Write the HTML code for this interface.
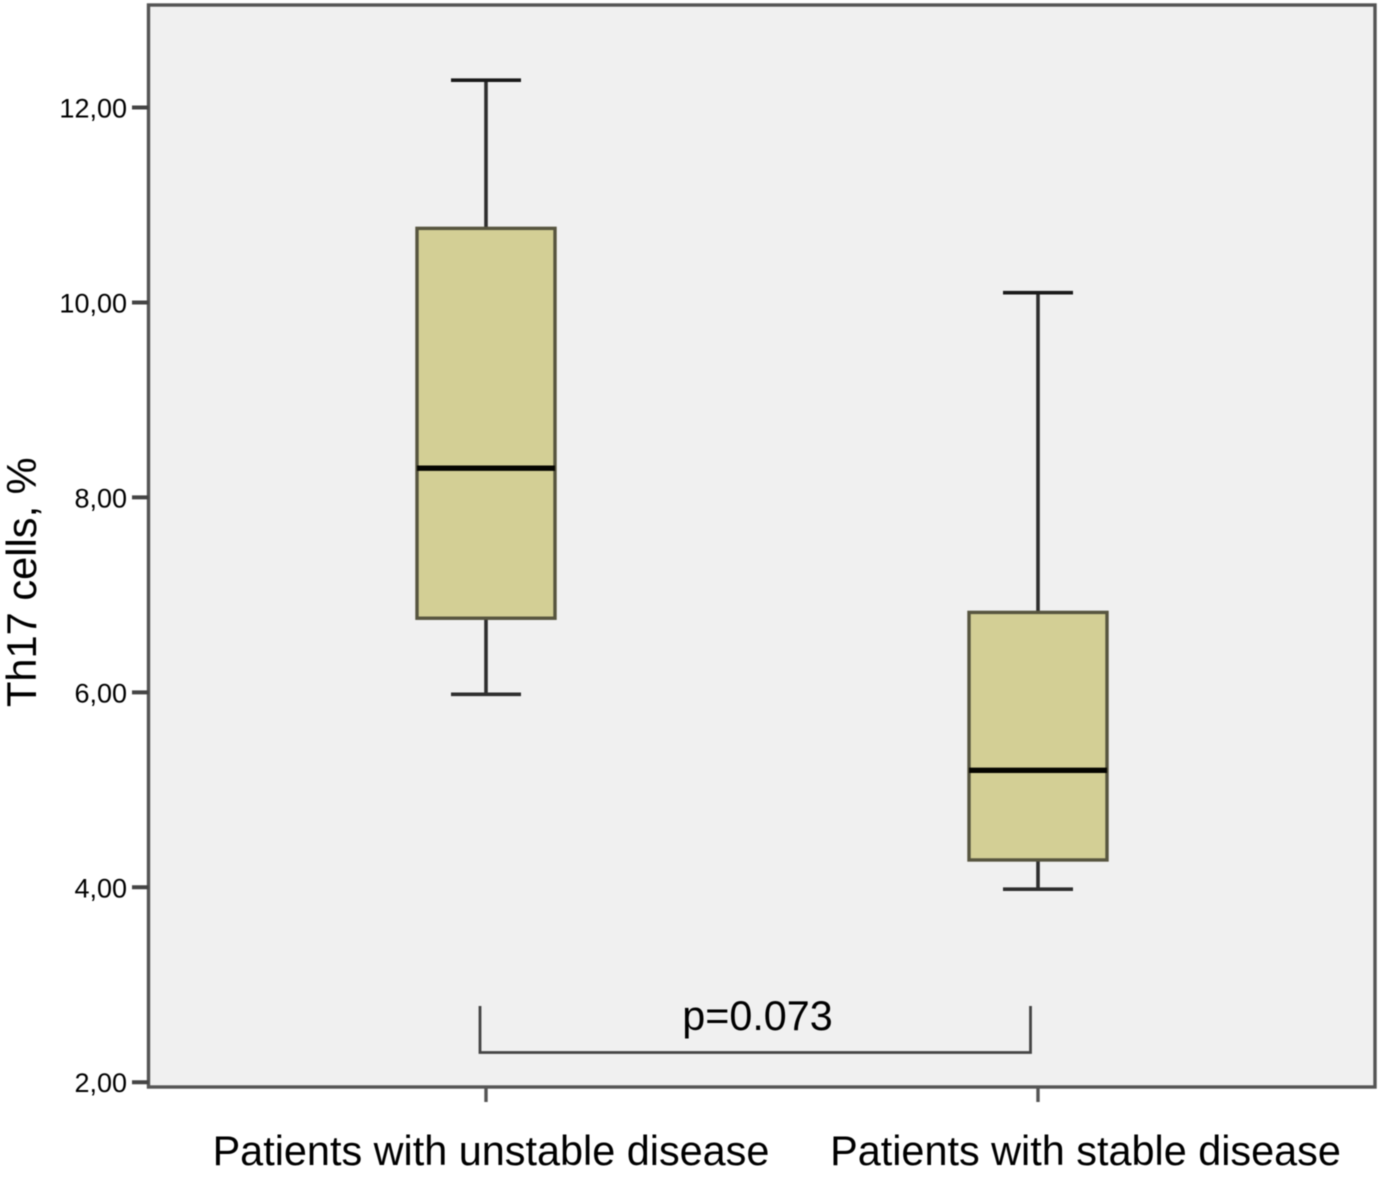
<!DOCTYPE html>
<html lang="en">
<head>
<meta charset="utf-8">
<title>Th17 cells box plot</title>
<style>
html,body{margin:0;padding:0;background:#fff;width:1379px;height:1195px;overflow:hidden}
svg{display:block;font-family:"Liberation Sans",Arial,sans-serif;filter:blur(0.4px)}
</style>
</head>
<body>
<svg id="chart" width="1379" height="1195" viewBox="0 0 1379 1195" xmlns="http://www.w3.org/2000/svg">
<rect x="0" y="0" width="1379" height="1195" fill="#ffffff"/>
<text transform="translate(36,707) rotate(-90)" font-size="41.6" fill="#000">Th17 cells, %</text>
</svg>
<script>
const categories = ['Patients with unstable disease', 'Patients with stable disease'];
const whiskerHigh = [12.28, 10.10];
const q3 = [10.76, 6.82];
const median = [8.30, 5.20];
const q1 = [6.76, 4.28];
const whiskerLow = [5.98, 3.98];
const yTicks = [12, 10, 8, 6, 4, 2];
const yTickLabels = ['12,00', '10,00', '8,00', '6,00', '4,00', '2,00'];
const pValueLabel = 'p=0.073';

const NS = 'http://www.w3.org/2000/svg';
const svg = document.getElementById('chart');
const plot = { left: 148.5, right: 1375, top: 5, bottom: 1087 };
const yScale = v => 107.5 + (12 - v) * 97.47;
const xScale = i => 486 + i * 552;
const BOX_HALF = 69;
const CAP_HALF = 35;

function make(tag, attrs, text) {
  const el = document.createElementNS(NS, tag);
  for (const k in attrs) el.setAttribute(k, attrs[k]);
  if (text !== undefined) el.textContent = text;
  return el;
}
function seg(x1, y1, x2, y2, stroke, width) {
  return make('line', { x1: x1, y1: y1, x2: x2, y2: y2, stroke: stroke, 'stroke-width': width });
}

const frame = make('rect', { x: plot.left, y: plot.top, width: plot.right - plot.left, height: plot.bottom - plot.top, fill: '#f0f0f0', stroke: '#555555', 'stroke-width': 3.4 });


svg.appendChild(frame);

yTicks.forEach((t, i) => {
  const y = yScale(t);
  const tick = seg(132, y, plot.left, y, '#444', 4);
  
  
  svg.appendChild(tick);
  const label = make('text', { x: 127, y: y + 10, 'text-anchor': 'end', 'font-size': 27, fill: '#000' }, yTickLabels[i]);
  
  
  svg.appendChild(label);
});

const labelCenters = [491, 1085.5];
categories.forEach((name, i) => {
  const x = xScale(i);

  const tick = seg(x, plot.bottom, x, 1102, '#555', 3.4);
  
  
  svg.appendChild(tick);

  const label = make('text', { x: labelCenters[i], y: 1165, 'text-anchor': 'middle', 'font-size': 41.4, fill: '#000' }, name);
  
  
  svg.appendChild(label);

  const group = make('g', {});
  
  

  const upper = seg(x, yScale(whiskerHigh[i]), x, yScale(q3[i]), '#2e2e2e', 3.6);
  
  
  group.appendChild(upper);

  const lower = seg(x, yScale(q1[i]), x, yScale(whiskerLow[i]), '#2e2e2e', 3.6);
  
  
  group.appendChild(lower);

  const capHigh = seg(x - CAP_HALF, yScale(whiskerHigh[i]), x + CAP_HALF, yScale(whiskerHigh[i]), '#1a1a1a', 3.6);
  
  
  group.appendChild(capHigh);

  const capLow = seg(x - CAP_HALF, yScale(whiskerLow[i]), x + CAP_HALF, yScale(whiskerLow[i]), '#2e2e2e', 3.6);
  
  
  group.appendChild(capLow);

  const box = make('rect', { x: x - BOX_HALF, y: yScale(q3[i]), width: BOX_HALF * 2, height: yScale(q1[i]) - yScale(q3[i]), fill: '#d3cf95', stroke: '#57553f', 'stroke-width': 3.4 });
  
  
  group.appendChild(box);

  const med = seg(x - BOX_HALF, yScale(median[i]), x + BOX_HALF, yScale(median[i]), '#050500', 5.4);
  
  
  group.appendChild(med);

  svg.appendChild(group);
});

const bracket = make('polyline', { points: '480,1006 480,1052.5 1030.5,1052.5 1030.5,1006', fill: 'none', stroke: '#444', 'stroke-width': 2.8 });


svg.appendChild(bracket);

const pText = make('text', { x: 757.5, y: 1030, 'text-anchor': 'middle', 'font-size': 41.3, fill: '#000' }, pValueLabel);


svg.appendChild(pText);
</script>
</body>
</html>
